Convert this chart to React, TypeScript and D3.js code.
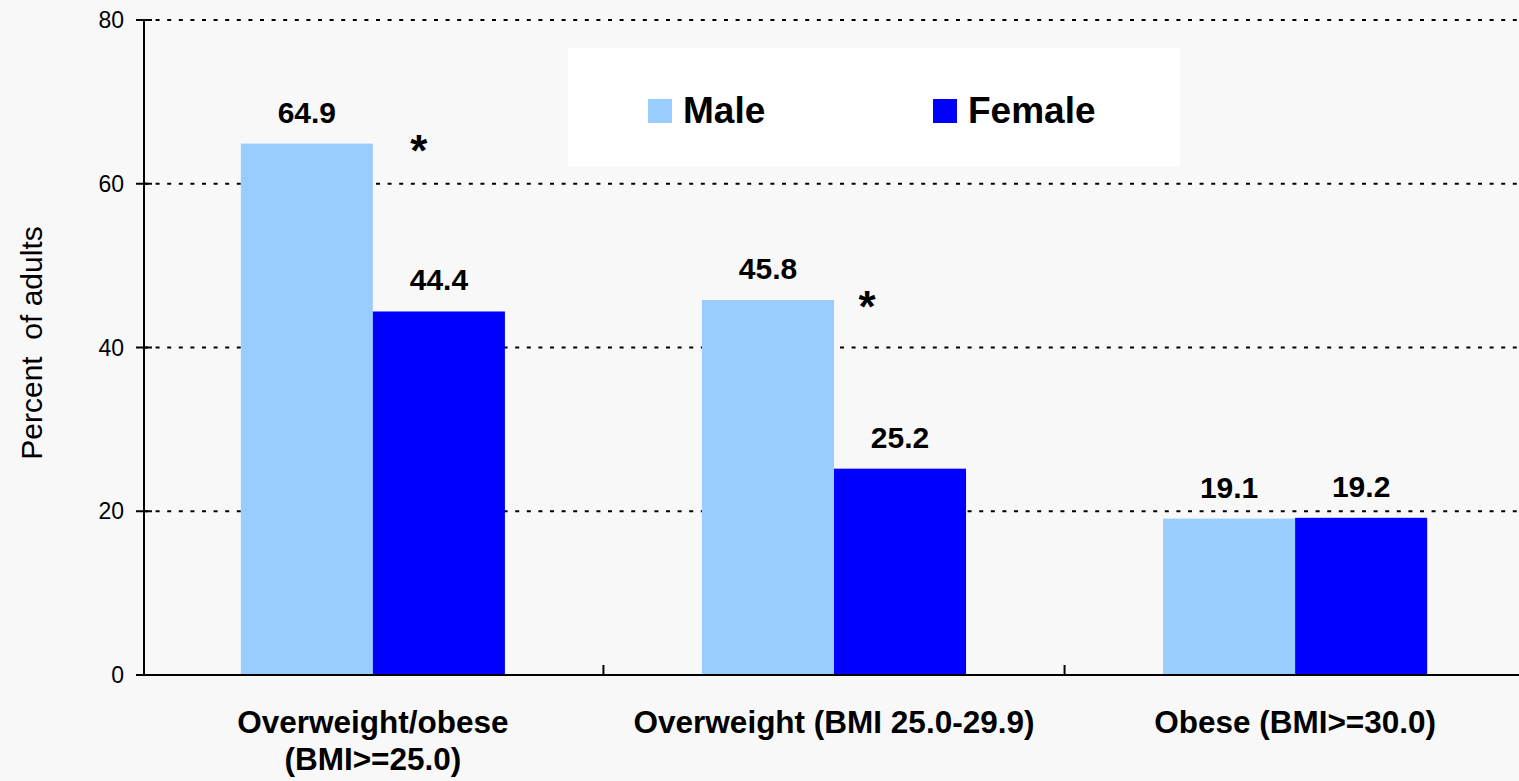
import * as d3 from 'd3';

const categories = [
  ['Overweight/obese', '(BMI>=25.0)'],
  ['Overweight (BMI 25.0-29.9)'],
  ['Obese (BMI>=30.0)'],
];
const seriesNames = ['Male', 'Female'];
const maleValues = [64.9, 45.8, 19.1];
const femaleValues = [44.4, 25.2, 19.2];
const significant = [true, true, false];
const yTicks = [0, 20, 40, 60, 80];

const colors: Record<string, string> = { Male: '#99ccff', Female: '#0000ff' };
const font = 'Liberation Sans, Arial, Helvetica, sans-serif';

const W = 1519;
const H = 781;
const left = 144;
const top = 20;
const bottom = 675;

// nudges for the significance star, per category (px right of female bar start)
const starDx = [46, 33, 0];

export default function App() {
  const keys = categories.map((_, i) => String(i));
  const x = d3.scaleBand<string>()
    .domain(keys)
    .range([left, 1524])
    .paddingInner(0.4273)
    .paddingOuter(0.21);
  const xs = d3.scaleBand<string>().domain(seriesNames).range([0, x.bandwidth()]);
  const y = d3.scaleLinear().domain([0, 80]).range([bottom, top]);
  const gap = (x.step() - x.bandwidth()) / 2;

  const rows = keys.map((k, i) => ({
    k,
    i,
    values: [
      { name: 'Male', v: maleValues[i] },
      { name: 'Female', v: femaleValues[i] },
    ],
  }));

  return (
    <svg
      width={W}
      height={H}
      style={{ position: 'absolute', left: 0, top: 0, display: 'block', background: '#f8f8f8' }}
      fontFamily={font}
    >
      <rect x={0} y={0} width={W} height={H} fill="#f8f8f8" />

      {/* gridlines */}
      {yTicks.filter(t => t > 0).map(t => (
        <line key={t} x1={left} x2={W} y1={y(t)} y2={y(t)}
          stroke="#000" strokeWidth={2} strokeDasharray="4,7.6" />
      ))}

      {/* legend */}
      <rect x={568} y={48} width={612} height={118} fill="#ffffff" />
      {seriesNames.map((s, i) => (
        <g key={s} transform={`translate(${648 + i * 285},0)`}>
          <rect x={0} y={99} width={24} height={24} fill={colors[s]} />
          <text x={35} y={123} fontSize={37} fontWeight="bold">{s}</text>
        </g>
      ))}

      {/* bars */}
      {rows.map(r => (
        <g key={r.k} transform={`translate(${x(r.k)},0)`}>
          {r.values.map(d => (
            <g key={d.name}>
              <rect x={xs(d.name)} y={y(d.v)} width={xs.bandwidth()} height={y(0) - y(d.v)} fill={colors[d.name]} />
              <text x={(xs(d.name) as number) + xs.bandwidth() / 2} y={y(d.v) - 21}
                textAnchor="middle" fontSize={30} fontWeight="bold">{d.v.toFixed(1)}</text>
            </g>
          ))}
          {significant[r.i] && (
            <text x={(xs('Female') as number) + starDx[r.i]} y={y(maleValues[r.i]) + 22}
              textAnchor="middle" fontSize={44} fontWeight="bold">*</text>
          )}
        </g>
      ))}

      {/* axes */}
      <line x1={left} x2={left} y1={top - 1} y2={bottom + 1} stroke="#000" strokeWidth={2} />
      <line x1={left} x2={W} y1={bottom} y2={bottom} stroke="#000" strokeWidth={2} />
      {yTicks.map(t => (
        <g key={t}>
          <line x1={left - 8} x2={left + 8} y1={y(t)} y2={y(t)} stroke="#000" strokeWidth={2} />
          <text x={124} y={y(t) + 8} textAnchor="end" fontSize={23}>{t}</text>
        </g>
      ))}
      {keys.slice(1).map(k => (
        <line key={k} x1={(x(k) as number) - gap} x2={(x(k) as number) - gap}
          y1={bottom} y2={bottom - 10} stroke="#000" strokeWidth={2} />
      ))}

      {/* category labels */}
      {rows.map(r => (
        <text key={r.k} x={(x(r.k) as number) + x.bandwidth() / 2} y={733}
          textAnchor="middle" fontSize={31.5} fontWeight="bold">
          {categories[r.i].map((line, j) => (
            <tspan key={j} x={(x(r.k) as number) + x.bandwidth() / 2} dy={j === 0 ? 0 : 37}>{line}</tspan>
          ))}
        </text>
      ))}

      <text transform={`translate(42,343) rotate(-90)`} textAnchor="middle" fontSize={30}
        style={{ whiteSpace: 'pre' }}>{'Percent  of adults'}</text>
    </svg>
  );
}
